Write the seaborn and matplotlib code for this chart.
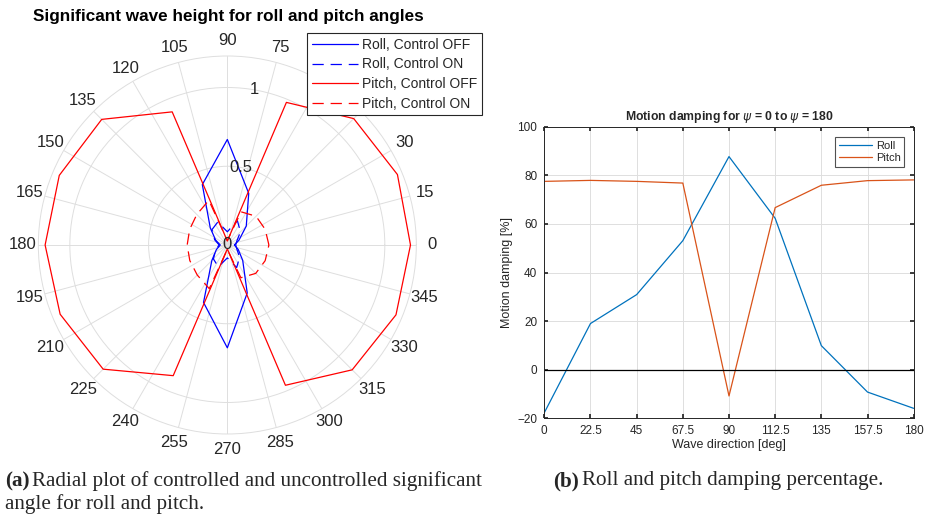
import numpy as np
import pandas as pd
import matplotlib
matplotlib.use("Agg")
import matplotlib.pyplot as plt
import seaborn as sns

# Wave directions for the radial plot [deg]
directions = [0, 22.5, 45, 67.5, 90, 112.5, 135, 157.5,
              180, 202.5, 225, 247.5, 270, 292.5, 315, 337.5]

# Significant roll / pitch angle per wave direction
roll_off = [0.045, 0.08, 0.17, 0.355, 0.67, 0.415, 0.153, 0.08,
            0.045, 0.075, 0.139, 0.395, 0.653, 0.33, 0.138, 0.075]
roll_on = [0.053, 0.065, 0.118, 0.167, 0.084, 0.158, 0.138, 0.087,
           0.052, 0.08, 0.125, 0.15, 0.082, 0.155, 0.11, 0.065]
pitch_off = [1.163, 1.169, 1.135, 0.98, 0.025, 0.915, 1.128, 1.155,
             1.157, 1.149, 1.115, 0.898, 0.025, 0.964, 1.121, 1.159]
pitch_on = [0.264, 0.26, 0.258, 0.228, 0.028, 0.307, 0.274, 0.259,
            0.255, 0.258, 0.27, 0.3, 0.028, 0.225, 0.255, 0.26]

# Damping percentages, 0 to 180 deg
damp_dirs = [0, 22.5, 45, 67.5, 90, 112.5, 135, 157.5, 180]
roll_damping = [-17.7, 19.0, 30.9, 53.1, 87.7, 62.3, 9.9, -9.2, -15.9]
pitch_damping = [77.5, 77.9, 77.5, 76.8, -10.8, 66.7, 75.9, 77.8, 78.1]

# Angle labels; 45 and 60 sit underneath the legend box
theta_labels = ["0", "15", "30", "", "", "75", "90", "105", "120", "135",
                "150", "165", "180", "195", "210", "225", "240", "255",
                "270", "285", "300", "315", "330", "345"]
r_ticks = [0, 0.5, 1]
x_ticks = [0, 22.5, 45, 67.5, 90, 112.5, 135, 157.5, 180]
x_ticklabels = ["0", "22.5", "45", "67.5", "90", "112.5", "135", "157.5", "180"]
y_ticks = [-20, 0, 20, 40, 60, 80, 100]

sns.set_theme(style="white")
plt.rcParams["font.family"] = ["Liberation Sans", "DejaVu Sans"]

TXT = "#262626"
GRID = "#dedede"

fig = plt.figure(figsize=(9.26, 5.19), dpi=100)

# ---------- (a) radial plot ----------
axp = fig.add_axes([0.0414, 0.1638, 0.4082, 0.7283], projection="polar")


def closed(vals):
    return np.append(vals, vals[0])


theta = np.deg2rad(closed(directions))
DASH = (0, (9, 5.5))
series = [
    ("Roll, Control OFF", roll_off, "#0000ff", "-"),
    ("Roll, Control ON", roll_on, "#0000ff", DASH),
    ("Pitch, Control OFF", pitch_off, "#ff0000", "-"),
    ("Pitch, Control ON", pitch_on, "#ff0000", DASH),
]
handles = []
for name, vals, col, ls in series:
    df = pd.DataFrame({"theta": theta, "r": closed(vals)})
    sns.lineplot(data=df, x="theta", y="r", ax=axp, sort=False, estimator=None,
                 color=col, linestyle=ls, linewidth=0.9, label=name, legend=False)
    handles.append(axp.lines[-1])

axp.set_rlim(0, 1.2)
axp.set_thetagrids(range(0, 360, 15), theta_labels, fontsize=12, color=TXT)
axp.tick_params(axis="x", pad=-2)
axp.set_yticks(r_ticks)
axp.set_yticklabels([])
axp.grid(True, color=GRID, linewidth=0.7)
axp.spines["polar"].set_color(GRID)
axp.spines["polar"].set_linewidth(0.7)
axp.set_xlabel("")
axp.set_ylabel("")
for rv in r_ticks:
    axp.text(np.deg2rad(80), rv, f"{rv:g}", ha="center", va="center",
             fontsize=12, color=TXT)

fig.text(228 / 926, 1 - 16 / 519, "Significant wave height for roll and pitch angles",
         ha="center", va="center", fontsize=12.3, fontweight="bold", color="black")

leg = fig.legend(handles=handles, labels=[s[0] for s in series], loc="upper right",
                 bbox_to_anchor=(482 / 926, 1 - 33 / 519), borderaxespad=0,
                 fontsize=10, frameon=True, fancybox=False, handlelength=3.3,
                 handletextpad=0.3, labelspacing=0.4, borderpad=0.35)
leg.get_frame().set_edgecolor("#262626")
leg.get_frame().set_linewidth(0.8)
leg.get_frame().set_alpha(1)

# ---------- (b) damping percentages ----------
axd = fig.add_axes([0.5878, 0.194, 0.3989, 0.5619])
ddf = pd.DataFrame({
    "direction": damp_dirs * 2,
    "damping": roll_damping + pitch_damping,
    "motion": ["Roll"] * len(damp_dirs) + ["Pitch"] * len(damp_dirs),
})
sns.lineplot(data=ddf, x="direction", y="damping", hue="motion", ax=axd,
             palette=["#0072BD", "#D95319"], linewidth=0.9, sort=False,
             estimator=None)
axd.axhline(0, color="black", linewidth=0.9)
axd.set_xlim(0, 180)
axd.set_ylim(-20, 100)
axd.set_xticks(x_ticks)
axd.set_xticklabels(x_ticklabels)
axd.set_yticks(y_ticks)
axd.grid(True, color=GRID, linewidth=0.7)
axd.tick_params(labelsize=8.5, colors=TXT, direction="in", length=3, pad=5,
                top=True, right=True, bottom=True, left=True)
for sp in axd.spines.values():
    sp.set_color(TXT)
    sp.set_linewidth(0.7)
axd.set_xlabel("Wave direction [deg]", fontsize=9, color=TXT, labelpad=1)
axd.set_ylabel("Motion damping [%]", fontsize=9, color=TXT, labelpad=3)
axd.set_title(r"Motion damping for $\psi$ = 0 to $\psi$ = 180", fontsize=8.8,
              fontweight="bold", pad=5)
lg = axd.legend(loc="upper right", fontsize=8, frameon=True, fancybox=False,
                handlelength=3, handletextpad=0.3, labelspacing=0.25,
                borderpad=0.35, bbox_to_anchor=(0.99, 0.985))
lg.get_frame().set_edgecolor("#262626")
lg.get_frame().set_linewidth(0.8)

# ---------- captions ----------
renderer = fig.canvas.get_renderer()
CAP = 15.2


def caption(x_px, y_px, bold, rest):
    t = fig.text(x_px / 926, 1 - y_px / 519, bold, fontsize=CAP,
                 fontweight="bold", family="Liberation Serif", va="center")
    bb = t.get_window_extent(renderer=renderer)
    fig.text((bb.x1 + 3) / 926, 1 - y_px / 519, rest, fontsize=CAP,
             family="Liberation Serif", va="center")


caption(5, 481, "(a)", "Radial plot of controlled and uncontrolled significant")
fig.text(5 / 926, 1 - 504 / 519, "angle for roll and pitch.", fontsize=CAP,
         family="Liberation Serif", va="center")
caption(553, 481, "(b)", "Roll and pitch damping percentage.")

fig.savefig("out.png", dpi=100)
